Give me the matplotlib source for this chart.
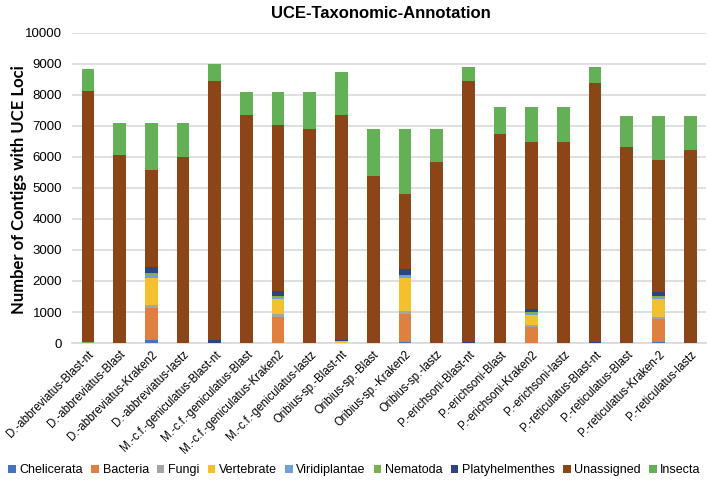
import matplotlib.pyplot as plt
import numpy as np

samples = ['D.-abbreviatus-Blast-nt', 'D.-abbreviatus-Blast', 'D.-abbreviatus-Kraken2', 'D.-abbreviatus-lastz',
           'M.-c.f.-geniculatus-Blast-nt', 'M.-c.f.-geniculatus-Blast', 'M.-c.f.-geniculatus-Kraken2', 'M.-c.f.-geniculatus-lastz',
           'Oribius-sp.-Blast-nt', 'Oribius-sp.-Blast', 'Oribius-sp.-Kraken2', 'Oribius-sp.-lastz',
           'P.-erichsoni-Blast-nt', 'P.-erichsoni-Blast', 'P.-erichsoni-Kraken2', 'P.-erichsoni-lastz',
           'P.-reticulatus-Blast-nt', 'P.-reticulatus-Blast', 'P.-reticulatus-Kraken-2', 'P.-reticulatus-lastz']

# per-bar counts, bottom to top
chelicerata     = [0, 0, 85, 0,   0, 0, 10, 0,    0, 0, 30, 0,    0, 0, 0, 0,    0, 0, 40, 0]
bacteria        = [0, 0, 1055, 0, 0, 0, 818, 0,   0, 0, 895, 0,   0, 0, 505, 0,  0, 0, 734, 0]
fungi           = [0, 0, 97, 0,   0, 0, 97, 0,    0, 0, 95, 0,    0, 0, 65, 0,   0, 0, 65, 0]
vertebrate      = [0, 0, 849, 0,  0, 0, 494, 0,   60, 0, 1066, 0, 0, 0, 344, 0,  0, 0, 570, 0]
viridiplantae   = [0, 0, 118, 0,  0, 0, 54, 0,    0, 0, 64, 0,    0, 0, 64, 0,   0, 0, 75, 0]
nematoda        = [40, 0, 43, 0,  0, 0, 54, 0,    0, 0, 50, 0,    0, 0, 20, 0,   0, 0, 43, 0]
platyhelmenthes = [0, 0, 193, 0,  110, 0, 140, 0, 25, 0, 190, 0,  40, 0, 99, 0,  40, 0, 129, 0]
unassigned      = [8090, 6060, 3150, 6000, 8340, 7350, 5363, 6900, 7265, 5400, 2427, 5850,
                   8410, 6750, 5373, 6470, 8340, 6320, 4258, 6210]
totals          = [8850, 7080, 7080, 7080, 8990, 8100, 8100, 8100, 8730, 6900, 6900, 6900,
                   8910, 7600, 7600, 7600, 8910, 7320, 7320, 7320]

groups = ['Chelicerata', 'Bacteria', 'Fungi', 'Vertebrate', 'Viridiplantae', 'Nematoda',
          'Platyhelmenthes', 'Unassigned', 'Insecta']
colors = ['#4472C4', '#DE8140', '#A5A5A5', '#F4C12E', '#6FA0D9', '#7DB04A', '#2A4580', '#8B4516', '#63B057']

if __name__ == '__main__':
    plt.rcParams['font.family'] = ['Liberation Sans', 'DejaVu Sans']
    parts = [chelicerata, bacteria, fungi, vertebrate, viridiplantae, nematoda, platyhelmenthes, unassigned]
    insecta = np.array(totals) - np.sum(np.array(parts), axis=0)
    parts.append(list(insecta))

    fig = plt.figure(figsize=(7.09, 4.84), dpi=100)
    ax = fig.add_axes([0.1016, 0.2913, 0.8942, 0.6407])
    x = np.arange(len(samples))
    bottom = np.zeros(len(samples))
    for name, vals, c in zip(groups, parts, colors):
        ax.bar(x, vals, 0.4, bottom=bottom, color=c, label=name, zorder=3)
        bottom += np.array(vals)

    ax.set_ylim(0, 10000)
    ax.set_xlim(-0.5, len(samples) - 0.5)
    ax.set_yticks(range(0, 10001, 1000))
    ax.yaxis.grid(True, color='#d9d9d9', linewidth=1.2, zorder=0)
    for s in ['top', 'right', 'left']:
        ax.spines[s].set_visible(False)
    ax.spines['bottom'].set_color('#d9d9d9')
    ax.spines['bottom'].set_linewidth(1.2)
    ax.tick_params(axis='y', length=0, labelsize=9.5, pad=7)
    ax.tick_params(axis='x', length=0, pad=4)
    ax.set_xticks(x)
    ax.set_xticklabels(samples, rotation=45, ha='right', rotation_mode='anchor', fontsize=8.3)

    fig.text(19 / 709, 1 - 190 / 484, 'Number of Contigs with UCE Loci', rotation=90, ha='center', va='center',
             fontsize=12, fontweight='bold', family='Lato')
    fig.text(381 / 709, 1 - 13 / 484, 'UCE-Taxonomic-Annotation', ha='center', va='center',
             fontsize=12, fontweight='bold')

    fig.legend(loc='center', bbox_to_anchor=(0.5, 1 - 470 / 484), ncol=9, frameon=False, fontsize=9,
               handlelength=0.6, handleheight=0.6, handletextpad=0.3, columnspacing=0.65)
    plt.savefig('out.png', dpi=100)
